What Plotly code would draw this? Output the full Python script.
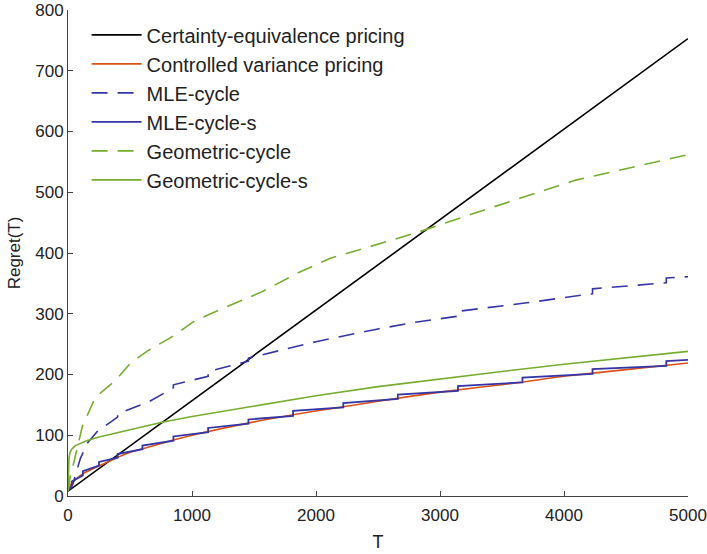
import plotly.graph_objects as go

# Certainty-equivalence pricing
ce_T = [0, 5000]
ce_R = [8, 753]

# Controlled variance pricing
cv_T = [0, 20, 50, 115, 276, 500, 624, 866, 1000, 1500, 2000, 2351, 2500, 3000, 3611, 4000, 4500, 5000]
cv_R = [8, 18, 25, 36, 52, 72, 79, 93, 100, 122, 140, 151, 156, 171, 186, 197, 208, 219]

# MLE-cycle
mle_T = [0, 40, 100, 160, 240, 400, 400, 650, 850, 850, 1130, 1130, 1455, 1455, 2000, 2500, 2800, 3145, 3145, 3700, 4230, 4230, 4825, 4825, 5000]
mle_R = [8, 20, 62, 88, 107, 130, 135, 155, 178, 183, 197, 205, 222, 227, 254, 275, 286, 296, 304, 318, 333, 341, 351, 359, 361]

# MLE-cycle-s (staircase)
mles_T = [0, 30, 30, 120, 120, 250, 250, 400, 400, 600, 600, 850, 850, 1130, 1130, 1455, 1455,
          1815, 1815, 2220, 2220, 2660, 2660, 3145, 3145, 3665, 3665, 4230, 4230, 4825, 4825, 5000]
mles_R = [8, 15, 24, 34, 41, 50, 56, 63, 69, 77, 83, 91, 98, 105, 112, 119, 126,
          132, 140, 146, 153, 160, 167, 173, 181, 187, 195, 201, 209, 214, 222, 224]

# Geometric-cycle
geo_T = [0, 20, 48, 115, 222, 383, 504, 650, 838, 1027, 1241, 1563, 1842, 2110, 2378, 2834, 3344, 3773, 4095, 5000]
geo_R = [8, 35, 56, 114, 163, 190, 219, 240, 262, 289, 308, 336, 366, 391, 407, 435, 470, 498, 520, 562]

# Geometric-cycle-s
geos_T = [0, 3, 8, 15, 30, 60, 100, 150, 250, 400, 500, 750, 1000, 1500, 2000, 2500, 3000, 3500, 4000, 4500, 5000]
geos_R = [8, 40, 62, 71, 77, 83, 87, 91, 97, 104, 109, 121, 131, 148, 165, 180, 193, 205, 217, 228, 238]

x_ticks = [0, 1000, 2000, 3000, 4000, 5000]
y_ticks = [0, 100, 200, 300, 400, 500, 600, 700, 800]

BLUE = "#3535A5"
GREEN = "#77AC30"
ORANGE = "#D95319"
DASH = "16px,10px"
FONT = "Liberation Sans, Arial, sans-serif"

fig = go.Figure()
fig.add_trace(go.Scatter(x=ce_T, y=ce_R, mode="lines", name="Certainty-equivalence pricing",
                         line=dict(color="black", width=1.6)))
fig.add_trace(go.Scatter(x=cv_T, y=cv_R, mode="lines", name="Controlled variance pricing",
                         line=dict(color=ORANGE, width=1.6, shape="spline", smoothing=0.6)))
fig.add_trace(go.Scatter(x=mle_T, y=mle_R, mode="lines", name="MLE-cycle",
                         line=dict(color=BLUE, width=1.6, dash=DASH)))
fig.add_trace(go.Scatter(x=mles_T, y=mles_R, mode="lines", name="MLE-cycle-s",
                         line=dict(color=BLUE, width=1.8)))
fig.add_trace(go.Scatter(x=geo_T, y=geo_R, mode="lines", name="Geometric-cycle",
                         line=dict(color=GREEN, width=1.6, dash=DASH)))
fig.add_trace(go.Scatter(x=geos_T, y=geos_R, mode="lines", name="Geometric-cycle-s",
                         line=dict(color=GREEN, width=1.6)))

axis_common = dict(showgrid=False, zeroline=False, showline=True, linecolor="#404040", linewidth=1,
                   ticks="inside", ticklen=5, tickcolor="#404040", automargin=False,
                   tickfont=dict(family=FONT, size=17, color="#222"))

fig.update_xaxes(range=[0, 5000], tickvals=x_ticks, ticklabelstandoff=4,
                 title=dict(text="T", standoff=10, font=dict(family=FONT, size=18, color="#222")),
                 **axis_common)
fig.update_yaxes(range=[0, 800], tickvals=y_ticks,
                 title=dict(text="Regret(T)", standoff=10, font=dict(family=FONT, size=17, color="#222")),
                 **axis_common)

fig.update_layout(
    width=707, height=554,
    margin=dict(l=68, r=19, t=10, b=58),
    plot_bgcolor="white", paper_bgcolor="white",
    font=dict(family=FONT, size=17, color="#222"),
    legend=dict(x=0.03, y=0.989, xanchor="left", yanchor="top", bgcolor="rgba(0,0,0,0)",
                font=dict(size=20, color="#222"), tracegroupgap=0, itemwidth=50),
)

fig.write_html("out.html")
